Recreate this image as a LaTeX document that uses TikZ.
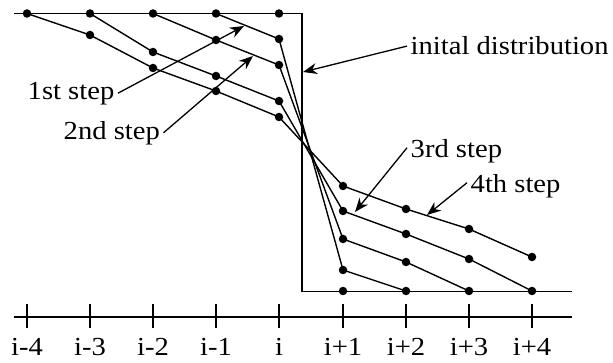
\documentclass[tikz,border=0pt]{standalone}
\usepackage{fontspec}
\setmainfont{Liberation Serif}
\usetikzlibrary{arrows.meta}
\newcommand{\wtxt}[1]{\scalebox{1.1}[1]{#1}}
\begin{document}
\begin{tikzpicture}[x=1pt,y=-1pt,line width=1.4pt,
  dot/.style={circle,fill=black,inner sep=0pt,minimum size=8.5pt},
  lbl/.style={font=\fontsize{26}{30}\selectfont,inner sep=3pt,anchor=base west},
  axl/.style={font=\fontsize{26}{30}\selectfont,inner sep=0pt,anchor=base},
  ptr/.style={-{Stealth[length=14pt,width=11pt,inset=4.5pt]},line width=1.3pt}]
\useasboundingbox (0,0) rectangle (613,363);
% initial distribution
\coordinate (L) at (14,13.5);
\coordinate (c1) at (302,13.5);
\coordinate (c2) at (302,291.5);
\coordinate (R) at (572,291.5);
\draw (L) -- (c1) -- (c2) -- (R);
% top and bottom dots
\node[dot] (t0) at (27,13.5) {};
\node[dot] (t1) at (90,13.5) {};
\node[dot] (t2) at (153,13.5) {};
\node[dot] (t3) at (216,13.5) {};
\node[dot] (t4) at (279,13.5) {};
\node[dot] (b1) at (343,291) {};
\node[dot] (b2) at (406,291) {};
\node[dot] (b3) at (469,291) {};
\node[dot] (b4) at (532,291) {};
% step 1
\node[dot] (p1a) at (279,39) {};
\node[dot] (p1b) at (343,270) {};
\draw (t3.center) -- (p1a.center) -- (p1b.center) -- (b2.center);
% step 2
\node[dot] (p2a) at (216,40) {};
\node[dot] (p2b) at (279,65) {};
\node[dot] (p2c) at (343,239) {};
\node[dot] (p2d) at (406,262) {};
\draw (t2.center) -- (p2a.center) -- (p2b.center) -- (p2c.center) -- (p2d.center) -- (b3.center);
% step 3
\node[dot] (p3a) at (153,52) {};
\node[dot] (p3b) at (216,76) {};
\node[dot] (p3c) at (279,101) {};
\node[dot] (p3d) at (343,211) {};
\node[dot] (p3e) at (406,234) {};
\node[dot] (p3f) at (469,259) {};
\draw (t1.center) -- (p3a.center) -- (p3b.center) -- (p3c.center) -- (p3d.center) -- (p3e.center) -- (p3f.center) -- (b4.center);
% step 4
\node[dot] (p4a) at (90,35) {};
\node[dot] (p4b) at (153,68) {};
\node[dot] (p4c) at (216,91) {};
\node[dot] (p4d) at (279,117) {};
\node[dot] (p4e) at (343,186) {};
\node[dot] (p4f) at (406,209) {};
\node[dot] (p4g) at (469,229) {};
\node[dot] (p4h) at (532,257) {};
\draw (t0.center) -- (p4a.center) -- (p4b.center) -- (p4c.center) -- (p4d.center) -- (p4e.center) -- (p4f.center) -- (p4g.center) -- (p4h.center);
% axis
\coordinate (a0) at (14,317);
\coordinate (a1) at (572,317);
\draw (a0) -- (a1);
\foreach \x/\t [count=\k] in {27/i-4,90/i-3,153/i-2,216/i-1,279/i,343/i+1,406/i+2,469/i+3,532/i+4}{
  \coordinate (tk\k) at (\x,304);
  \coordinate (tb\k) at (\x,328);
  \draw (tk\k) -- (tb\k);
  \node[axl] (x\k) at (\x,355) {\wtxt{\t}};
}
% labels and pointers
\node[lbl] (l0) at (407,55) {\wtxt{inital distribution}};
\node[lbl] (l1) at (24,100) {\wtxt{1st step}};
\node[lbl] (l2) at (60,140) {\wtxt{2nd step}};
\node[lbl] (l3) at (407,158) {\wtxt{3rd step}};
\node[lbl] (l4) at (467,193) {\wtxt{4th step}};
\coordinate (e0) at (303,72);
\coordinate (e1) at (244,26);
\coordinate (e2) at (253,56);
\coordinate (e3) at (355,212);
\coordinate (e4) at (427,215);
\draw[ptr] (l0.west) -- (e0);
\draw[ptr] ([yshift=1pt]l1.east) -- (e1);
\draw[ptr] ([yshift=1pt]l2.east) -- (e2);
\draw[ptr] ([yshift=4pt]l3.west) -- (e3);
\draw[ptr] ([yshift=4pt]l4.west) -- (e4);
\end{tikzpicture}
\end{document}
